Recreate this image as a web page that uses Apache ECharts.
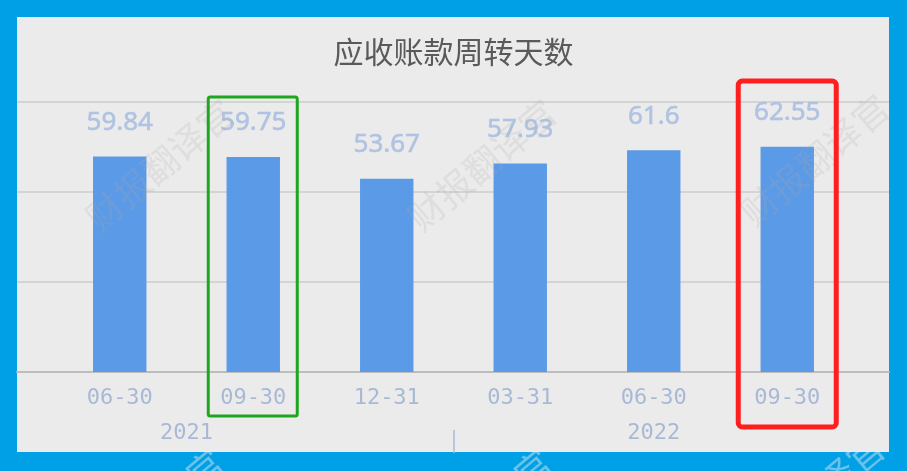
<!DOCTYPE html>
<html>
<head>
<meta charset="utf-8">
<script src="https://cdn.jsdelivr.net/npm/echarts@6/dist/echarts.min.js"></script>
<style>
html,body{margin:0;padding:0;background:#00a0e6;}
#chart{width:907px;height:471px;}
</style>
</head>
<body>
<div id="chart"></div>
<script>
var title = '应收账款周转天数';
var categories = ['06-30', '09-30', '12-31', '03-31', '06-30', '09-30'];
var values = [59.84, 59.75, 53.67, 57.93, 61.6, 62.55];
var yearLabels = ['', '', '2021', '', '', '', '', '', '', '2022', '', '', ''];
var yearDividerIndex = 6;
var yTicks = [0, 25, 50, 75];
var watermark = '财报翻译官';
var greenBoxIndex = 1;
var redBoxIndex = 5;

var chart = echarts.init(document.getElementById('chart'), null, {renderer: 'canvas'});

var labelColor = '#b0c3e2';
var axisTextColor = '#a9b9d5';

function wm(x, y, color) {
  return {
    type: 'text', x: x, y: y, rotation: Math.PI * 40 / 180, z: 50, silent: true,
    style: {
      text: watermark, fill: color, font: '36px "Noto Sans CJK SC"',
      align: 'center', verticalAlign: 'middle'
    }
  };
}

var option = {
  backgroundColor: '#00a0e6',
  animation: false,
  title: {
    text: title, left: 'center', top: 32,
    textStyle: {fontFamily: 'Noto Sans CJK SC', fontSize: 30, fontWeight: 'normal', color: '#5a5a5a'}
  },
  grid: [
    {left: 17, right: 18, top: 102, height: 270},
    {left: 53, right: 53, top: 102, height: 270}
  ],
  xAxis: [
    {
      gridIndex: 0, type: 'category', data: categories, boundaryGap: true,
      axisLine: {show: true, lineStyle: {color: '#bdbdbd', width: 2}},
      axisTick: {show: false}, axisLabel: {show: false}, splitLine: {show: false}
    },
    {
      gridIndex: 1, type: 'category', data: categories, boundaryGap: true,
      axisLine: {show: false}, axisTick: {show: false},
      axisLabel: {
        interval: 0, margin: 15, color: axisTextColor,
        fontFamily: 'DejaVu Sans Mono', fontSize: 22
      }
    },
    {
      gridIndex: 1, type: 'category', data: yearLabels, boundaryGap: false,
      position: 'bottom', offset: 58,
      axisLine: {show: false},
      axisTick: {
        show: true, length: 23, inside: false,
        interval: function (i) { return i === yearDividerIndex; },
        lineStyle: {color: '#a9b9d5', width: 1.5}
      },
      axisLabel: {
        interval: 0, margin: -8, color: axisTextColor,
        fontFamily: 'DejaVu Sans Mono', fontSize: 22
      }
    }
  ],
  yAxis: [
    {
      gridIndex: 0, type: 'value', min: yTicks[0], max: yTicks[yTicks.length - 1], interval: yTicks[1] - yTicks[0],
      axisLine: {show: false}, axisTick: {show: false}, axisLabel: {show: false},
      splitLine: {show: true, lineStyle: {color: '#cdcdcd', width: 1.5}}
    },
    {
      gridIndex: 1, type: 'value', min: yTicks[0], max: yTicks[yTicks.length - 1], interval: yTicks[1] - yTicks[0],
      axisLine: {show: false}, axisTick: {show: false}, axisLabel: {show: false},
      splitLine: {show: false}
    }
  ],
  series: [
    {
      type: 'bar', xAxisIndex: 1, yAxisIndex: 1, data: values, barWidth: '40%',
      itemStyle: {color: '#5b9ae6'},
      label: {
        show: true, position: 'top', distance: 21, color: labelColor,
        fontFamily: 'Noto Sans', fontSize: 26, fontWeight: 'normal',
        textBorderColor: labelColor, textBorderWidth: 0.6
      }
    }
  ],
  graphic: [
    {type: 'rect', z: -10, silent: true, shape: {x: 17, y: 17, width: 872, height: 435}, style: {fill: '#ebebeb'}}
  ]
};
chart.setOption(option);

var gx = chart.convertToPixel({seriesIndex: 0}, [greenBoxIndex, 0])[0];
var rx = chart.convertToPixel({seriesIndex: 0}, [redBoxIndex, 0])[0];
chart.setOption({
  graphic: [
    {type: 'rect', z: -10, silent: true, shape: {x: 17, y: 17, width: 872, height: 435}, style: {fill: '#ebebeb'}},
    wm(160, 165, 'rgba(170,170,170,0.2)'),
    wm(482, 165, 'rgba(170,170,170,0.2)'),
    wm(815, 160, 'rgba(170,170,170,0.2)'),
    wm(150, 515, 'rgba(235,235,235,0.45)'),
    wm(478, 515, 'rgba(235,235,235,0.45)'),
    wm(810, 500, 'rgba(235,235,235,0.45)'),
    {type: 'rect', z: 60, silent: true, shape: {x: gx - 45, y: 97, width: 89, height: 319, r: 2},
     style: {fill: 'none', stroke: '#1fa61f', lineWidth: 3}},
    {type: 'rect', z: 60, silent: true, shape: {x: rx - 49, y: 81, width: 98, height: 346, r: 4},
     style: {fill: 'none', stroke: '#ff1f1f', lineWidth: 5}}
  ]
});
</script>
</body>
</html>
